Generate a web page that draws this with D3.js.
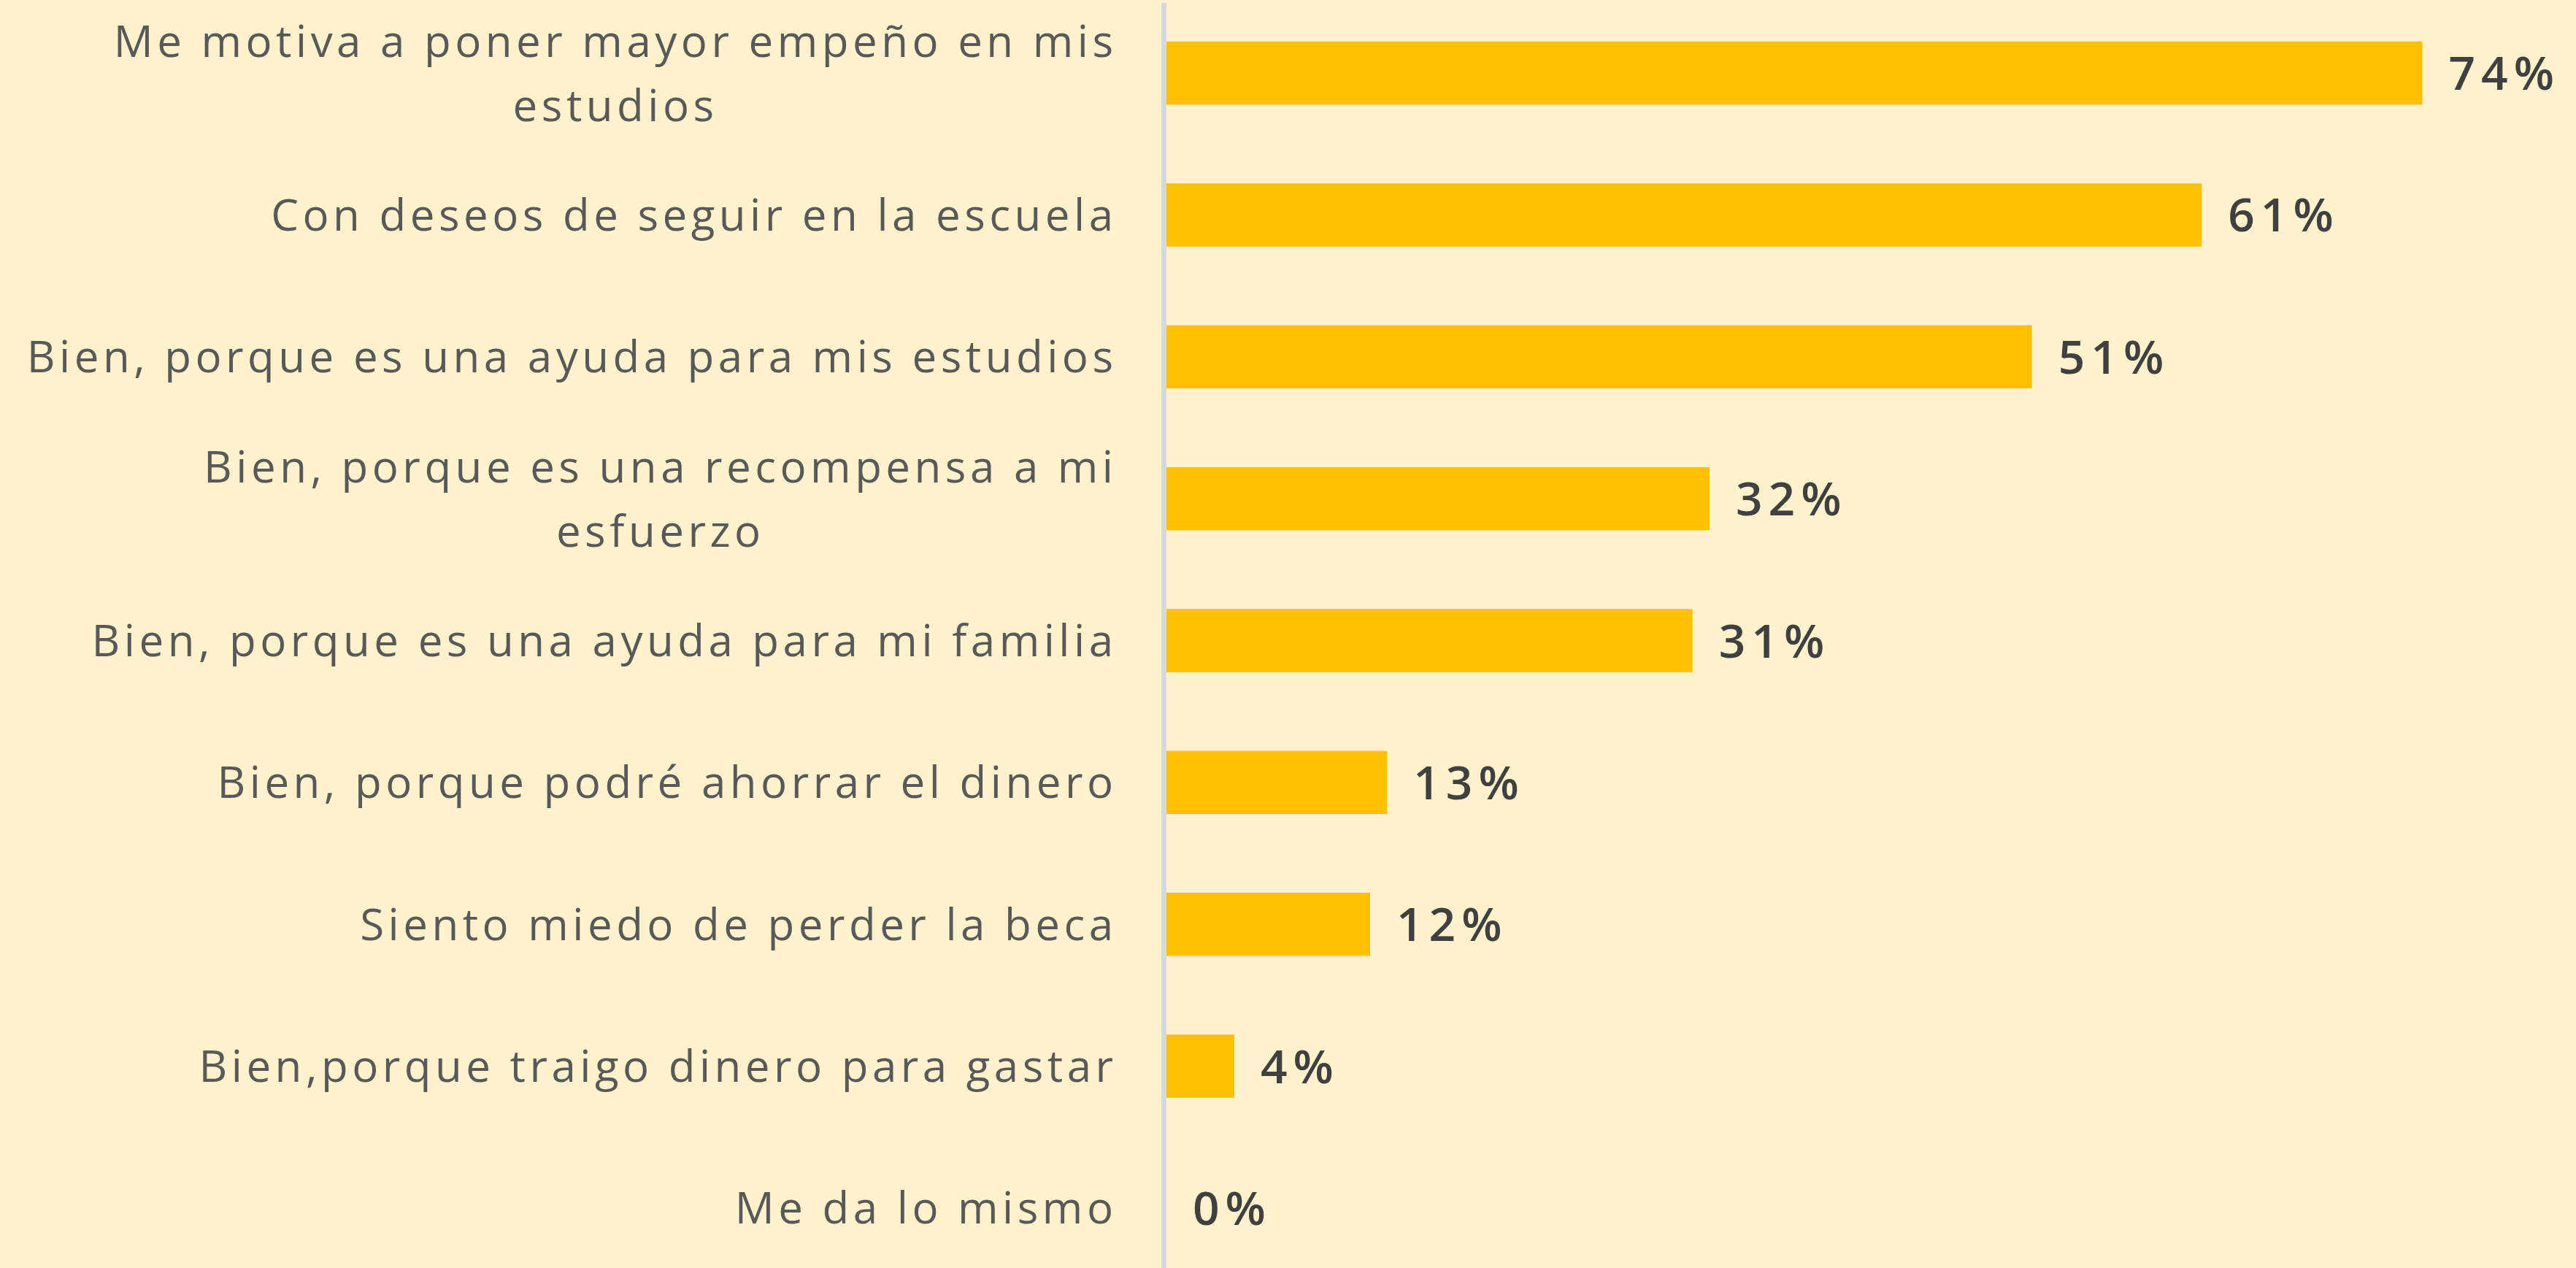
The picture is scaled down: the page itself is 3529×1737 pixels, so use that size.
<!DOCTYPE html>
<html>
<head>
<meta charset="utf-8">
<script src="https://cdnjs.cloudflare.com/ajax/libs/d3/7.8.5/d3.min.js"></script>
<style>
  html, body { margin: 0; padding: 0; background: #FFF2CC; }
  svg { display: block; }
</style>
</head>
<body>
<script>
// respuestas y porcentajes
var categories = [
  "Me motiva a poner mayor empeño en mis|estudios",
  "Con deseos de seguir en la escuela",
  "Bien, porque es una ayuda para mis estudios",
  "Bien, porque es una recompensa a mi|esfuerzo",
  "Bien, porque es una ayuda para mi familia",
  "Bien, porque podré ahorrar el dinero",
  "Siento miedo de perder la beca",
  "Bien,porque traigo dinero para gastar",
  "Me da lo mismo"
];
var values = [74, 61, 51, 32, 31, 13, 12, 4, 0];

var width = 3529,
  height = 1737,
  left = 1598;

var svg = d3.select("body").append("svg").
  attr("width", width).
  attr("height", height);

svg.append("rect").
  attr("width", width).
  attr("height", height).
  attr("fill", "#FFF2CC");

var x = d3.scaleLinear().
  domain([0, 80]).
  range([left, left + 80 * 23.25]);

var y = d3.scaleBand().
  domain(categories).
  range([18, height]).
  paddingInner(0.555).
  paddingOuter(0.2);

svg.selectAll(".bar").
  data(values).
  enter().append("rect").
  attr("class", "bar").
  attr("x", x(0)).
  attr("y", function (d, i) { return y(categories[i]); }).
  attr("width", function (d) { return x(d) - x(0); }).
  attr("height", y.bandwidth()).
  attr("fill", "#FFC000");

// axis line
svg.append("line").
  attr("x1", x(0) - 3.5).
  attr("x2", x(0) - 3.5).
  attr("y1", 4).
  attr("y2", height).
  attr("stroke", "#D9D9D9").
  attr("stroke-width", 7);

var font = "'Open Sans', Lato, sans-serif";
var fontSize = 60;
var spacing = 5.5;
var labelRight = 1525 + spacing;

categories.forEach(function (c, i) {
  var lines = c.split("|");
  var cy = y(c) + y.bandwidth() / 2;
  var lineGap = 88;
  var firstBase = cy + fontSize * 0.36 - (lines.length - 1) * lineGap / 2;
  var t = svg.append("text").
    attr("x", labelRight).
    attr("y", firstBase).
    attr("text-anchor", "end").
    attr("font-family", font).
    attr("font-size", fontSize).
    attr("letter-spacing", spacing).
    attr("fill", "#595959").
    text(lines[0]);
  if (lines.length > 1) {
    var w = t.node().getComputedTextLength();
    svg.append("text").
      attr("x", labelRight - w / 2).
      attr("y", firstBase + lineGap).
      attr("text-anchor", "middle").
      attr("font-family", font).
      attr("font-size", fontSize).
      attr("letter-spacing", spacing).
      attr("fill", "#595959").
      text(lines[1]);
  }
});

svg.selectAll(".val").
  data(values).
  enter().append("text").
  attr("class", "val").
  attr("x", function (d) { return x(d) + 36; }).
  attr("y", function (d, i) { return y(categories[i]) + y.bandwidth() / 2 + 23; }).
  attr("font-family", font).
  attr("font-weight", 600).
  attr("font-size", 64).
  attr("letter-spacing", 8).
  attr("fill", "#404040").
  text(function (d) { return d + "%"; });
</script>
</body>
</html>
